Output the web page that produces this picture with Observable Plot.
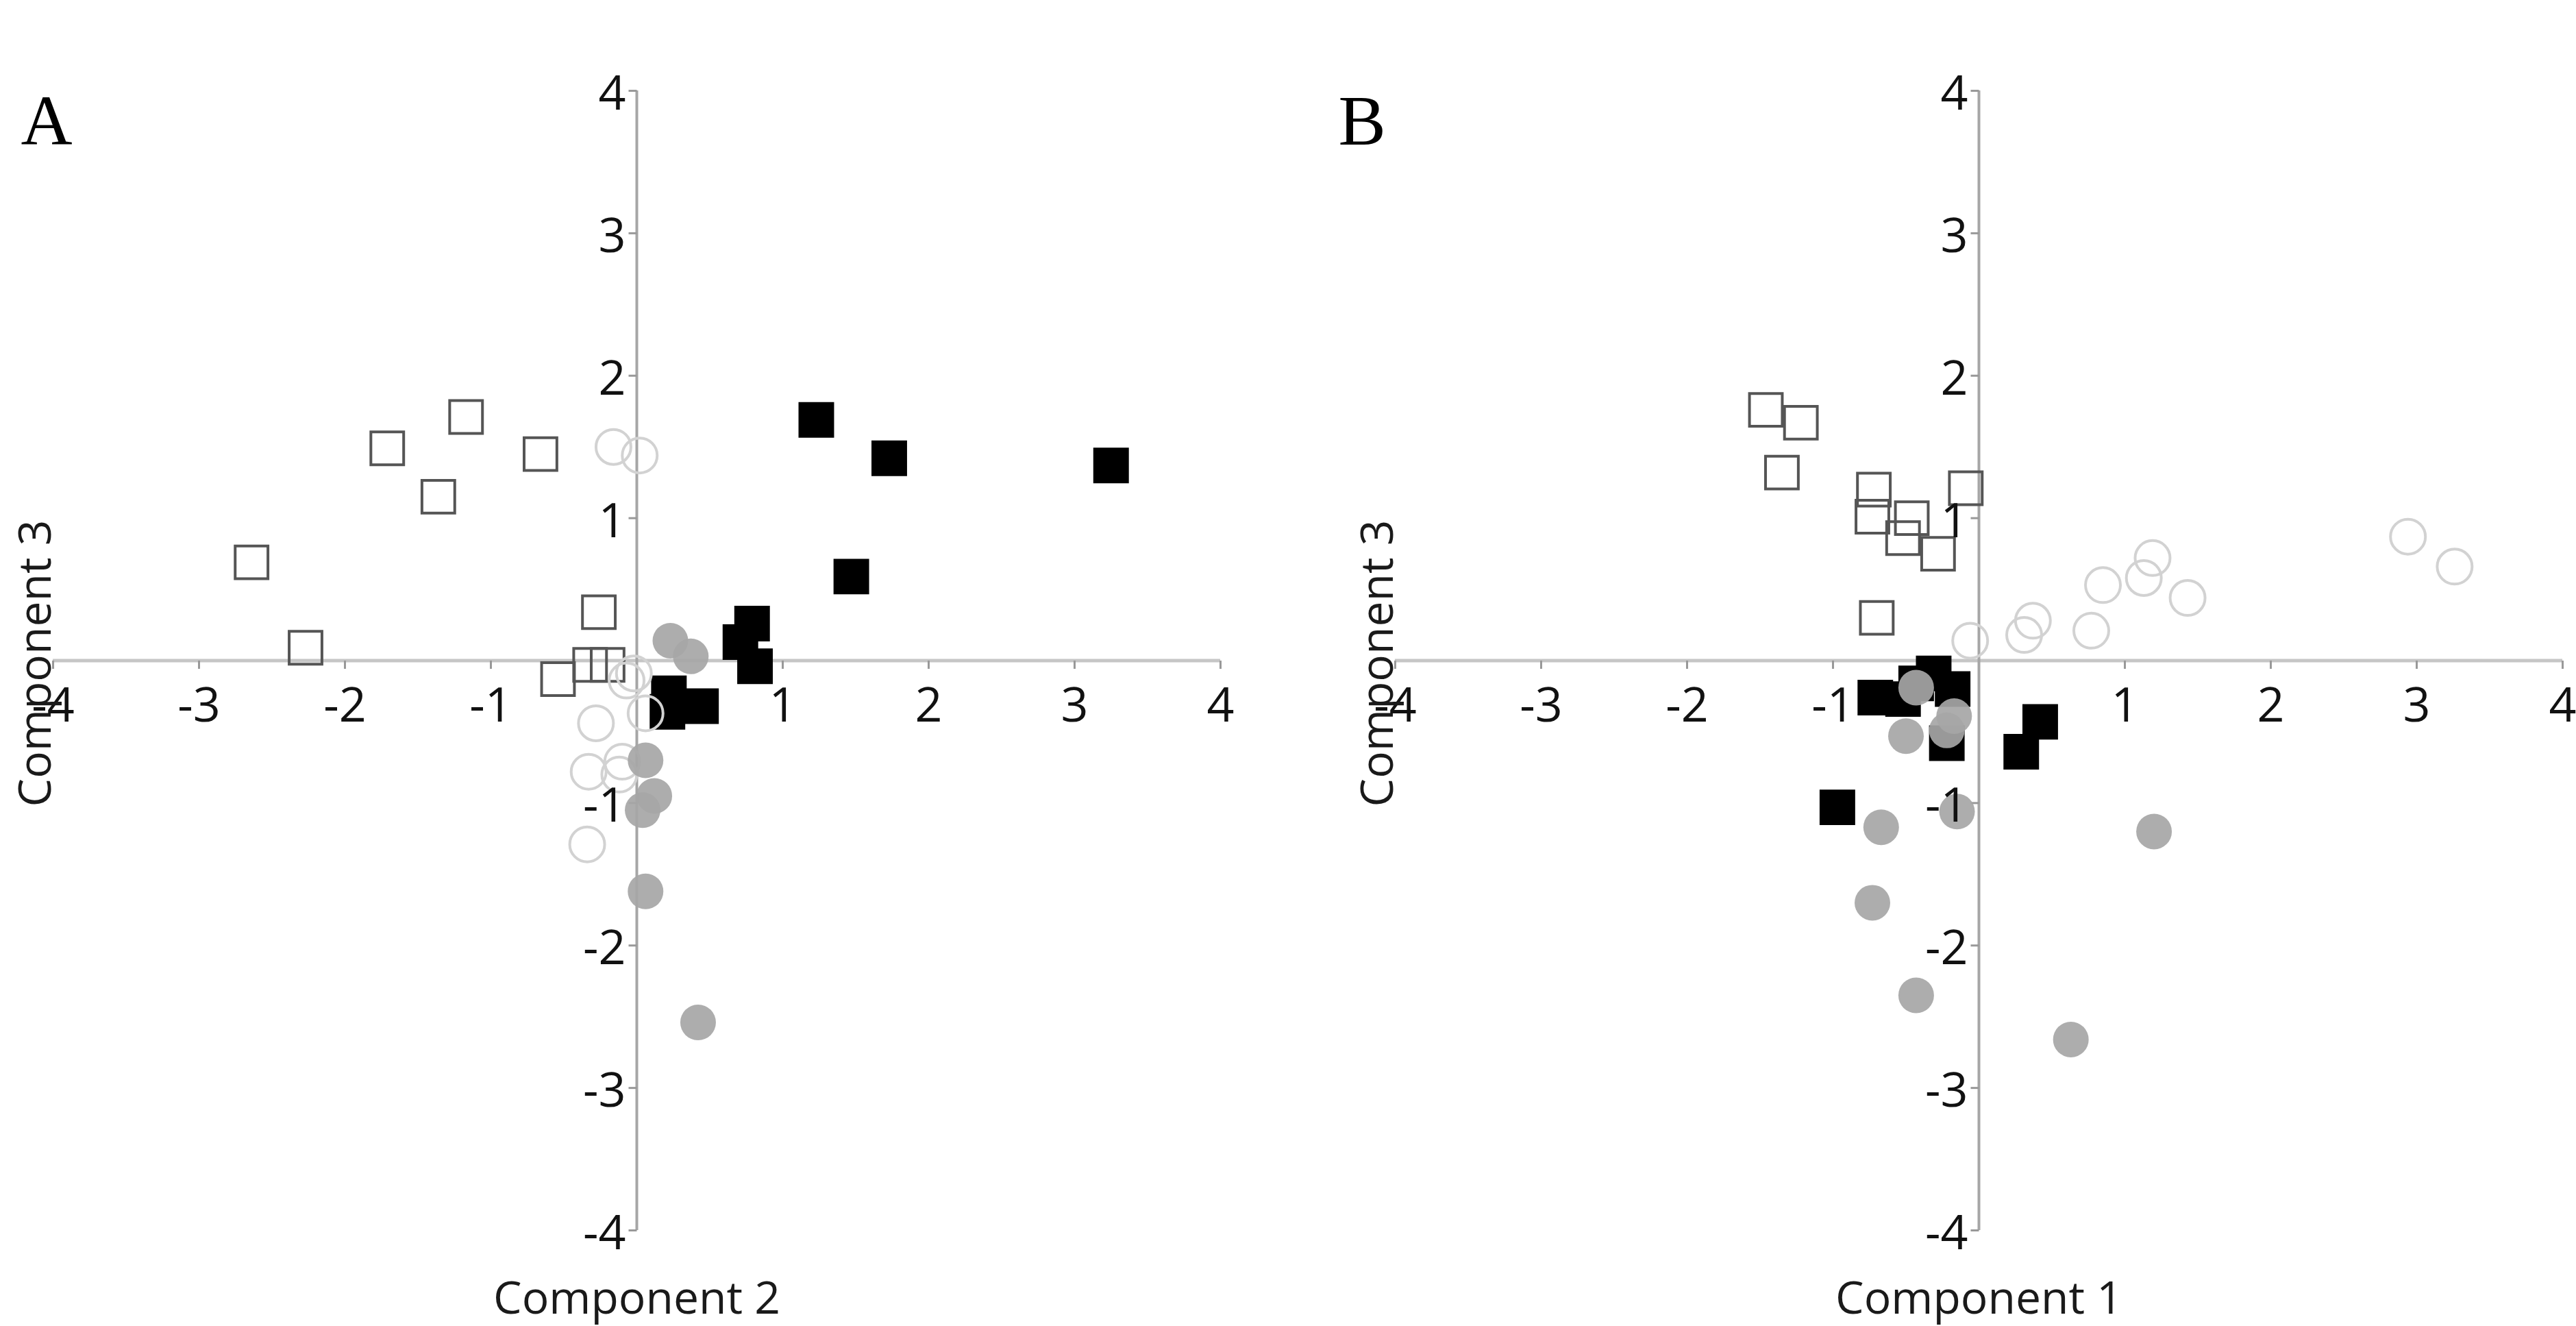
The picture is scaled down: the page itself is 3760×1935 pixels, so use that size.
<!DOCTYPE html>
<html>
<head>
<meta charset="utf-8">
<script src="https://cdn.jsdelivr.net/npm/d3@7"></script>
<script src="https://cdn.jsdelivr.net/npm/@observablehq/plot@0.6"></script>
<style>
html, body { margin: 0; padding: 0; background: #fff; overflow: hidden; }
#wrap { display: flex; width: 3760px; height: 1935px; }
#wrap svg { display: block; }
</style>
</head>
<body>
<div id="wrap"></div>
<script>
// Tick values shown on both axes (0 is not labelled)
const ticks = [-4, -3, -2, -1, 1, 2, 3, 4];

// ---------- Panel A: Component 2 (x) vs Component 3 (y) ----------
const openSquaresA_x = [-2.64, -2.27, -1.71, -1.17, -1.36, -0.66, -0.26, -0.54, -0.32, -0.20];
const openSquaresA_y = [0.69, 0.09, 1.49, 1.71, 1.15, 1.45, 0.34, -0.13, -0.03, -0.03];

const blackSquaresA_x = [1.23, 1.73, 3.25, 1.47, 0.71, 0.79, 0.81, 0.22, 0.21, 0.44];
const blackSquaresA_y = [1.69, 1.42, 1.37, 0.59, 0.13, 0.26, -0.04, -0.23, -0.36, -0.32];

const openCirclesA_x = [-0.16, 0.02, -0.07, -0.02, 0.06, -0.28, -0.33, -0.10, -0.12, -0.34];
const openCirclesA_y = [1.50, 1.44, -0.14, -0.09, -0.37, -0.44, -0.78, -0.71, -0.80, -1.29];

const grayCirclesA_x = [0.23, 0.37, 0.06, 0.12, 0.04, 0.06, 0.42];
const grayCirclesA_y = [0.14, 0.03, -0.70, -0.95, -1.05, -1.62, -2.54];

// ---------- Panel B: Component 1 (x) vs Component 3 (y) ----------
const openSquaresB_x = [-1.46, -1.22, -1.35, -0.72, -0.73, -0.46, -0.52, -0.28, -0.09, -0.70];
const openSquaresB_y = [1.76, 1.67, 1.32, 1.20, 1.01, 1.00, 0.86, 0.75, 1.21, 0.30];

const blackSquaresB_x = [-0.31, -0.43, -0.18, -0.71, -0.52, -0.22, 0.42, 0.29, -0.97];
const blackSquaresB_y = [-0.09, -0.16, -0.20, -0.26, -0.27, -0.58, -0.43, -0.64, -1.03];

const openCirclesB_x = [-0.06, 0.37, 0.31, 0.77, 0.85, 1.13, 1.19, 1.43, 2.94, 3.26];
const openCirclesB_y = [0.14, 0.28, 0.18, 0.21, 0.53, 0.58, 0.72, 0.44, 0.87, 0.66];

const grayCirclesB_x = [-0.43, -0.50, -0.17, -0.22, -0.15, -0.67, 1.20, -0.73, -0.43, 0.63];
const grayCirclesB_y = [-0.19, -0.53, -0.39, -0.49, -1.06, -1.17, -1.20, -1.70, -2.35, -2.66];

const zipXY = (xs, ys) => xs.map((x, i) => ({x, y: ys[i]}));

// small tick marks drawn as custom symbols
const tickDown = {draw(ctx) { ctx.moveTo(0, 0); ctx.lineTo(0, 12); }};
const tickLeft = {draw(ctx) { ctx.moveTo(0, 0); ctx.lineTo(-12, 0); }};

function panel(opts) {
  const {letter, xLabel, openSq, blackSq, openCi, grayCi, marginLeft, marginRight, letterDx} = opts;
  return Plot.plot({
    width: 1880,
    height: 1935,
    marginLeft,
    marginRight,
    marginTop: 132,
    marginBottom: 140,
    x: {domain: [-4, 4], axis: null},
    y: {domain: [-4, 4], axis: null},
    style: {background: "white", fontFamily: "'Open Sans', sans-serif", color: "#111"},
    marks: [
      Plot.ruleY([0], {stroke: "#c6c6c6", strokeWidth: 5}),
      Plot.ruleX([0], {stroke: "#a6a6a6", strokeWidth: 4}),
      Plot.dot(ticks, {x: d => d, y: 0, symbol: tickDown, fill: "none", stroke: "#999", strokeWidth: 3}),
      Plot.dot(ticks, {x: 0, y: d => d, symbol: tickLeft, fill: "none", stroke: "#999", strokeWidth: 3}),
      Plot.dot(openSq, {x: "x", y: "y", symbol: "square", r: 27, fill: "none", stroke: "#555", strokeWidth: 4}),
      Plot.dot(blackSq, {x: "x", y: "y", symbol: "square", r: 29.3, fill: "#000", stroke: "none"}),
      Plot.dot(openCi, {x: "x", y: "y", r: 25.5, fill: "none", stroke: "#d2d2d2", strokeWidth: 4}),
      Plot.dot(grayCi, {x: "x", y: "y", r: 26, fill: "#a6a6a6", fillOpacity: 0.92, stroke: "none"}),
      Plot.text(ticks, {x: d => d, y: 0, text: d => String(d), dy: 67, lineAnchor: "middle", fontSize: 70, fill: "#111"}),
      Plot.text(ticks, {x: 0, y: d => d, text: d => String(d), dx: -16, dy: 5, textAnchor: "end", lineAnchor: "middle", fontSize: 70, fill: "#111"}),
      Plot.text([xLabel], {text: d => d, frameAnchor: "bottom", dy: 100, textAnchor: "middle", lineAnchor: "middle", fontSize: 66, fill: "#1a1a1a"}),
      Plot.text(["Component 3"], {text: d => d, frameAnchor: "left", rotate: -90, dx: -25, dy: 4, textAnchor: "middle", lineAnchor: "middle", fontSize: 66, fill: "#1a1a1a"}),
      Plot.text([letter], {text: d => d, frameAnchor: "top-left", dx: letterDx, dy: 78, textAnchor: "start", lineAnchor: "bottom", fontSize: 104, fontFamily: "'Liberation Serif', 'Times New Roman', serif", fill: "#000"})
    ]
  });
}

const wrap = document.getElementById("wrap");
wrap.append(panel({
  letter: "A",
  xLabel: "Component 2",
  openSq: zipXY(openSquaresA_x, openSquaresA_y),
  blackSq: zipXY(blackSquaresA_x, blackSquaresA_y),
  openCi: zipXY(openCirclesA_x, openCirclesA_y),
  grayCi: zipXY(grayCirclesA_x, grayCirclesA_y),
  marginLeft: 77,
  marginRight: 99,
  letterDx: -47
}));
wrap.append(panel({
  letter: "B",
  xLabel: "Component 1",
  openSq: zipXY(openSquaresB_x, openSquaresB_y),
  blackSq: zipXY(blackSquaresB_x, blackSquaresB_y),
  openCi: zipXY(openCirclesB_x, openCirclesB_y),
  grayCi: zipXY(grayCirclesB_x, grayCirclesB_y),
  marginLeft: 156,
  marginRight: 20,
  letterDx: -83
}));
</script>
</body>
</html>
